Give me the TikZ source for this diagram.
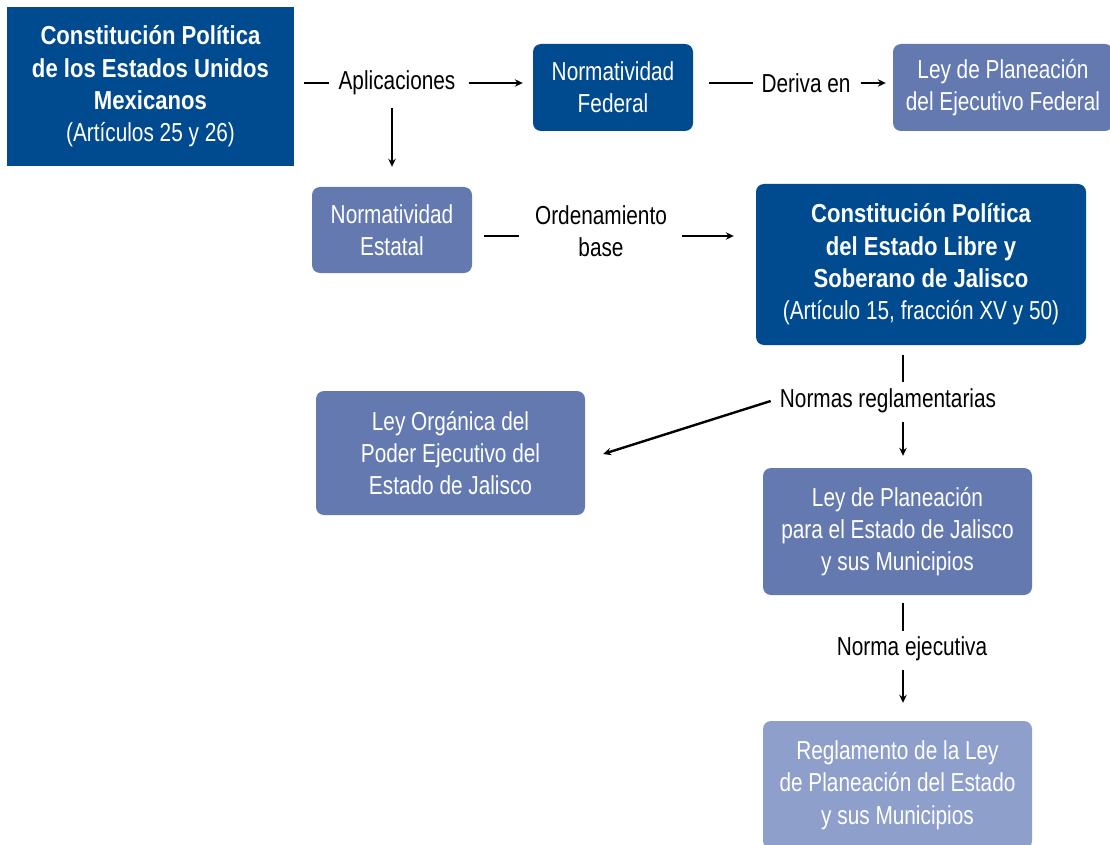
\documentclass[tikz,border=0pt]{standalone}
\usepackage{fontspec}
\setmainfont{Liberation Sans}[FakeStretch=0.80,BoldFeatures={FakeStretch=0.85}]
\usetikzlibrary{arrows.meta,calc}
\definecolor{dblue}{HTML}{004A8F}
\definecolor{mblue}{HTML}{6479B0}
\definecolor{lblue}{HTML}{8E9FCB}
\newcommand{\fs}{\fontsize{26}{32.3}\selectfont}
\tikzset{
  box/.style={rectangle, rounded corners=8pt, text=white, align=center, inner sep=0pt, font=\fs},
  darkbox/.style={box, fill=dblue},
  midbox/.style={box, fill=mblue},
  lightbox/.style={box, fill=lblue},
  lab/.style={align=center, inner sep=0pt, font=\fs, text=black},
  ln/.style={line width=2.4pt},
  arr/.style={line width=2.4pt, -{Stealth[length=8pt,width=7.5pt]}},
}
\begin{document}
\begin{tikzpicture}[x=1pt,y=-1pt]
\useasboundingbox (0,0) rectangle (1110,845);
% boxes
\node[darkbox, rounded corners=0pt, minimum width=287pt, minimum height=159pt] (cpeum) at (150.5,86.5)
  {\textbf{Constitución Política}\\\textbf{de los Estados Unidos}\\\textbf{Mexicanos}\\(Artículos 25 y 26)};
\node[darkbox, minimum width=160pt, minimum height=87pt] (nfed) at (613,87.5) {Normatividad\\Federal};
\node[midbox, minimum width=220pt, minimum height=87pt] (lpef) at (1003,87.5) {Ley de Planeación\\del Ejecutivo Federal};
\node[midbox, minimum width=160pt, minimum height=86pt] (nest) at (392,230) {Normatividad\\Estatal};
\node[darkbox, minimum width=330pt, minimum height=161pt] (cpel) at (921,264.5)
  {\textbf{Constitución Política}\\\textbf{del Estado Libre y}\\\textbf{Soberano de Jalisco}\\(Artículo 15, fracción XV y 50)};
\node[midbox, minimum width=269pt, minimum height=124pt] (lorg) at (450.5,453) {Ley Orgánica del\\Poder Ejecutivo del\\Estado de Jalisco};
\node[midbox, minimum width=269pt, minimum height=127pt] (lpej) at (897.5,531.5) {Ley de Planeación\\para el Estado de Jalisco\\y sus Municipios};
\node[lightbox, minimum width=269pt, minimum height=128pt] (regl) at (897.5,785) {Reglamento de la Ley\\de Planeación del Estado\\y sus Municipios};
% labels
\node[lab] (apl) at (397,83) {Aplicaciones};
\node[lab] (der) at (806,83) {Deriva en};
\node[lab] (ord) at (601,231) {Ordenamiento\\base};
\node[lab] (nor) at (888,401) {Normas reglamentarias};
\node[lab] (nej) at (912,649) {Norma ejecutiva};
% connectors
\draw[ln] ($(apl.west)+(-9,0)$) -- ($(apl.west)+(-34,0)$);
\draw[arr] ($(apl.east)+(13,0)$) -- ($(nfed.west|-apl)+(-10,0)$);
\draw[arr] ($(nest.north)+(0,-79)$) -- ($(nest.north)+(0,-20)$);
\draw[ln] ($(nfed.east|-der)+(16,0)$) -- ($(der.west)+(-8,0)$);
\draw[arr] ($(der.east)+(10,0)$) -- ($(lpef.west|-der)+(-7,0)$);
\draw[ln] ($(nest.east|-ord)+(12,5)$) -- ($(ord.west)+(-16,5)$);
\draw[arr] ($(ord.east)+(15,5)$) -- ($(cpel.west|-ord)+(-22,5)$);
\draw[ln] ($(cpel.south)+(-18,10)$) -- ($(cpel.south)+(-18,37)$);
\draw[arr] ($(lpej.north)+(5.5,-46)$) -- ($(lpej.north)+(5.5,-12)$);
\draw[arr] ($(nor.west)+(-9,0)$) -- ($(lorg.east)+(18,1)$);
\draw[ln] ($(lpej.south)+(5.5,8)$) -- ($(lpej.south)+(5.5,36)$);
\draw[arr] ($(regl.north)+(5.5,-51)$) -- ($(regl.north)+(5.5,-18)$);
\end{tikzpicture}
\end{document}
